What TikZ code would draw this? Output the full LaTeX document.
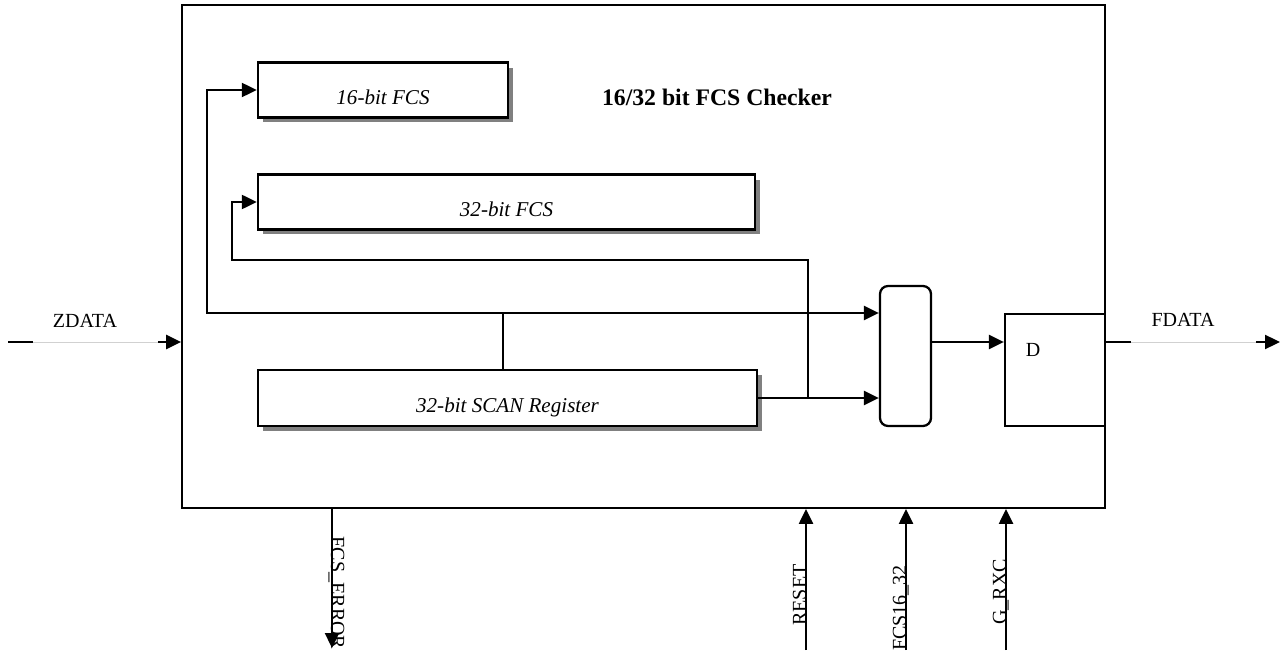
\documentclass[tikz,border=0pt]{standalone}
\usepackage{fontspec}
\setmainfont{Liberation Serif}
\usetikzlibrary{arrows.meta}
\usetikzlibrary{shadows}

\begin{document}
\begin{tikzpicture}[x=0.02cm,y=-0.02cm,
	sig/.style={line width=1.3pt},
	faint/.style={line width=0.5pt,draw=black!18},
	>={Triangle[length=0.3cm,width=0.28cm]},
	fcsbox/.style={draw,line width=1.4pt,fill=white,inner sep=0pt,minimum height=1.1cm,
		text height=0.6cm,text depth=0pt,font=\fontsize{12}{14}\selectfont\itshape,
		general shadow={fill=black!50,shadow xshift=0.1cm,shadow yshift=-0.1cm}},
	lbl/.style={font=\fontsize{11.4}{13}\selectfont,inner sep=0pt}]
	\useasboundingbox (0,0) rectangle (1285,655);

	\node[draw,line width=1.1pt,inner sep=0pt,minimum width=18.46cm,minimum height=10.06cm] (chk) at (643.5,256.5) {};
	\node[font=\fontsize{13.5}{16}\selectfont\bfseries] (ttl) at (717,97) {16/32 bit FCS Checker};

	\node[fcsbox,minimum width=5cm] (fcs16) at (383,90) {16-bit FCS};
	\node[fcsbox,minimum width=9.94cm] (fcs32) at (506.5,202) {32-bit FCS};
	\node[fcsbox,minimum width=9.98cm,minimum height=1.12cm] (scan) at (507.5,398) {32-bit SCAN Register};

	\node[draw,line width=1.3pt,rounded corners=0.16cm,minimum width=1.02cm,minimum height=2.8cm] (mux) at (905.5,356) {};
	\node[draw,line width=1.3pt,minimum width=2cm,minimum height=2.24cm] (dff) at (1055,370) {};
	\node[lbl] (dlbl) at (1033,350) {D};

	\coordinate (zin) at (8,342);
	\coordinate (fout) at (1280,342);
	\coordinate (tap) at (503,313);
	\coordinate (lft16) at (207,313);
	\coordinate (tap32) at (808,398);
	\coordinate (lft32) at (232,260);
	\coordinate (err) at (332,648);
	\coordinate (rst) at (806,650);
	\coordinate (sel) at (906,650);
	\coordinate (clk) at (1006,650);

	% data in
	\draw[sig] (zin) -- ++(25,0) coordinate (zg1);
	\draw[faint] (zg1) -- ++(125,0) coordinate (zg2);
	\draw[sig,->] (zg2) -- (zin -| chk.west);
	\node[lbl] (zlbl) at (85,321) {ZDATA};

	\draw[sig,->] (scan.north -| tap) -- (tap) -- (lft16) |- (fcs16.west);
	\draw[sig,->] (tap) -- (tap -| mux.west);
	\draw[sig,->] (scan.east) -- (scan.east -| mux.west);
	\draw[sig,->] (tap32) |- (lft32) |- (fcs32.west);
	\draw[sig,->] (mux.east |- zin) -- (dff.west |- zin);

	% data out
	\draw[sig] (chk.east |- fout) -- ++(25,0) coordinate (fg1);
	\draw[faint] (fg1) -- ++(125,0) coordinate (fg2);
	\draw[sig,->] (fg2) -- (fout);
	\node[lbl] (flbl) at (1183,320) {FDATA};

	% pins at the bottom
	\draw[sig,->] (err |- chk.south) -- (err);
	\draw[sig,->] (rst) -- (rst |- chk.south);
	\draw[sig,->] (sel) -- (sel |- chk.south);
	\draw[sig,->] (clk) -- (clk |- chk.south);
	\node[lbl,rotate=-90,anchor=base] (errlbl) at (331,593) {FCS\_ERROR};
	\node[lbl,rotate=90,anchor=base] (rstlbl) at (806,595) {RESET};
	\node[lbl,rotate=90,anchor=base] (sellbl) at (906,608) {FCS16\_32};
	\node[lbl,rotate=90,anchor=base] (clklbl) at (1006,592) {G\_RXC};
\end{tikzpicture}
\end{document}
